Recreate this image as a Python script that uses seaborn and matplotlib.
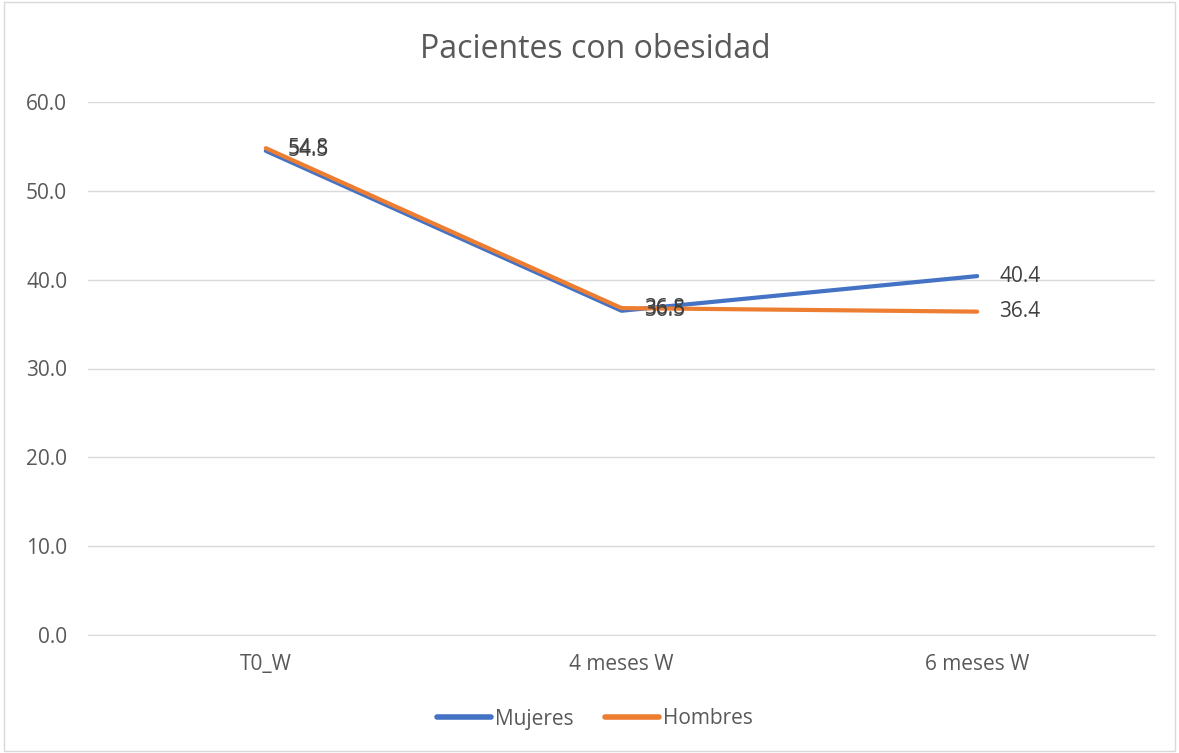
import pandas as pd
import matplotlib.pyplot as plt
import seaborn as sns

categorias = ["T0_W", "4 meses W", "6 meses W"]
mujeres = [54.5, 36.5, 40.4]
hombres = [54.8, 36.8, 36.4]
series = ["Mujeres", "Hombres"]
colores = {"Mujeres": "#4472C4", "Hombres": "#ED7D31"}

df = pd.DataFrame({
    "momento": categorias * 2,
    "pos": list(range(len(categorias))) * 2,
    "valor": mujeres + hombres,
    "grupo": ["Mujeres"] * 3 + ["Hombres"] * 3,
})

sns.set_style("white")
plt.rcParams["font.family"] = ["Open Sans", "DejaVu Sans"]
gris = "#595959"

fig = plt.figure(figsize=(11.79, 7.53), dpi=100)
ax = fig.add_axes([88 / 1179, 1 - 635 / 753, (1155 - 88) / 1179, (635 - 102) / 753])

sns.lineplot(data=df, x="pos", y="valor", hue="grupo", palette=colores,
             linewidth=3, sort=False, ax=ax, legend=True)

# etiquetas de datos a la derecha de cada punto
for g in series:
    sub = df[df["grupo"] == g]
    for p, v in zip(sub["pos"], sub["valor"]):
        ax.annotate(f"{v:.1f}", (p, v), xytext=(16, 0), textcoords="offset points",
                    va="center", ha="left", fontsize=15, color="#404040")

ax.set_ylim(0, 60)
ax.set_yticks(range(0, 61, 10))
ax.set_yticklabels([f"{t:.1f}" for t in range(0, 61, 10)])
ax.set_xlim(-0.5, 2.5)
ax.set_xticks(range(len(categorias)))
ax.set_xticklabels(categorias)
ax.tick_params(axis="both", length=0, labelsize=15, colors=gris)
ax.tick_params(axis="x", pad=14)
ax.tick_params(axis="y", pad=15)
ax.grid(axis="y", color="#d9d9d9", linewidth=1)
ax.set_axisbelow(True)
for s in ["top", "right", "left"]:
    ax.spines[s].set_visible(False)
ax.spines["bottom"].set_color("#d9d9d9")
ax.set_xlabel("")
ax.set_ylabel("")

fig.text(595 / 1179, 1 - 49 / 753, "Pacientes con obesidad", ha="center", va="center",
         fontsize=23, color=gris)

handles, labels = ax.get_legend_handles_labels()
ax.get_legend().remove()
leg = fig.legend(handles, labels, loc="center", bbox_to_anchor=(595 / 1179, 1 - 719 / 753),
                 ncol=2, frameon=False, fontsize=15, handlelength=2.6,
                 handletextpad=0.2, columnspacing=1.5)
for t in leg.get_texts():
    t.set_color(gris)
for l in leg.get_lines():
    l.set_linewidth(4)

fig.patches.append(plt.Rectangle((0.003, 0.003), 0.994, 0.994, transform=fig.transFigure,
                                 fill=False, edgecolor="#d9d9d9", linewidth=1))

fig.savefig("out.png", dpi=100)
